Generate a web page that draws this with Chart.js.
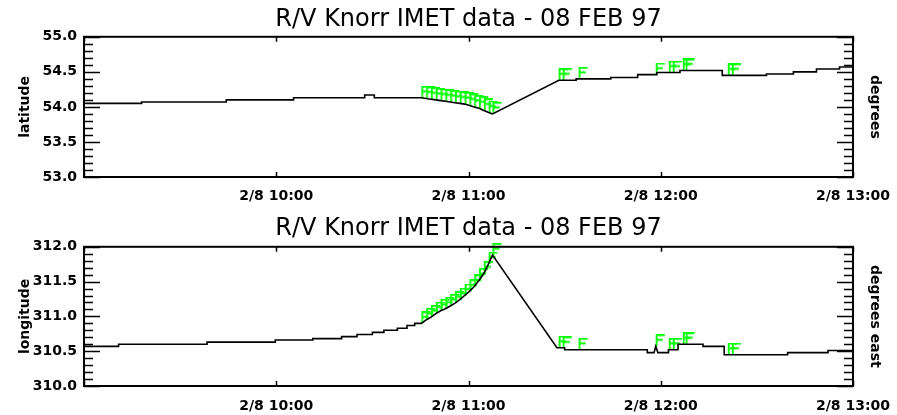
<!DOCTYPE html>
<html>
<head>
<meta charset="utf-8">
<script src="https://cdn.jsdelivr.net/npm/chart.js@4.4.1/dist/chart.umd.min.js"></script>
<style>
  html, body { margin: 0; padding: 0; background: #fff; }
  canvas { display: block; }
</style>
</head>
<body>
<canvas id="lat-chart" width="897" height="208"></canvas>
<canvas id="lon-chart" width="897" height="207"></canvas>
<script>
const title = 'R/V Knorr IMET data - 08 FEB 97';

// hours of 8 Feb 1997 on the x axis
const xTickLabels = ['', '2/8 10:00', '2/8 11:00', '2/8 12:00', '2/8 13:00'];

const latTimes = [9.0, 9.30, 9.30, 9.74, 9.74, 10.09, 10.09, 10.46, 10.46, 10.51, 10.51,
  10.755, 10.78, 10.805, 10.83, 10.855, 10.88, 10.905, 10.93, 10.955, 10.98, 11.005, 11.03, 11.055, 11.08, 11.105, 11.125,
  11.47, 11.56, 11.56, 11.74, 11.74, 11.88, 11.88, 11.98, 11.98, 12.10, 12.10, 12.32, 12.32,
  12.55, 12.55, 12.69, 12.69, 12.81, 12.81, 12.93, 12.93, 13.0];
const latitude = [54.05, 54.05, 54.07, 54.07, 54.10, 54.10, 54.13, 54.13, 54.17, 54.17, 54.13,
  54.13, 54.12, 54.11, 54.10, 54.09, 54.08, 54.07, 54.06, 54.05, 54.04, 54.02, 54.00, 53.98, 53.95, 53.92, 53.90,
  54.38, 54.38, 54.40, 54.40, 54.42, 54.42, 54.46, 54.46, 54.49, 54.49, 54.52, 54.52, 54.45,
  54.45, 54.47, 54.47, 54.50, 54.50, 54.54, 54.54, 54.57, 54.57];

const lonTimes = [9.0, 9.18, 9.18, 9.64, 9.64, 9.995, 9.995, 10.19, 10.19, 10.34, 10.34, 10.42, 10.42,
  10.50, 10.50, 10.56, 10.56, 10.63, 10.63, 10.68, 10.68, 10.72, 10.72,
  10.755, 10.78, 10.805, 10.83, 10.855, 10.88, 10.905, 10.93, 10.955, 10.98, 11.005, 11.03, 11.055, 11.08, 11.105, 11.125,
  11.46, 11.50, 11.50, 11.93, 11.93, 11.965, 11.974, 11.985, 12.04, 12.04, 12.09, 12.09,
  12.22, 12.22, 12.33, 12.33, 12.66, 12.66, 12.87, 12.87, 13.0];
const longitude = [310.57, 310.57, 310.60, 310.60, 310.63, 310.63, 310.66, 310.66, 310.68, 310.68, 310.71, 310.71, 310.74,
  310.74, 310.77, 310.77, 310.80, 310.80, 310.83, 310.83, 310.87, 310.87, 310.90,
  310.90, 310.95, 310.99, 311.04, 311.08, 311.11, 311.15, 311.19, 311.24, 311.30, 311.36, 311.43, 311.52, 311.62, 311.76, 311.88,
  310.55, 310.55, 310.52, 310.52, 310.48, 310.48, 310.57, 310.48, 310.48, 310.52, 310.52, 310.60,
  310.60, 310.57, 310.57, 310.45, 310.45, 310.48, 310.48, 310.51, 310.51];

// points flagged "F"
const flagTimes = [10.755, 10.78, 10.805, 10.83, 10.855, 10.88, 10.905, 10.93, 10.955, 10.98, 11.005, 11.03, 11.055, 11.08, 11.105, 11.125,
  11.469, 11.49, 11.573, 11.974, 12.042, 12.063, 12.115, 12.13, 12.349, 12.37];
const flagLatitude = [54.13, 54.12, 54.11, 54.10, 54.09, 54.08, 54.07, 54.06, 54.05, 54.04, 54.02, 54.00, 53.98, 53.95, 53.92, 53.90,
  54.38, 54.38, 54.40, 54.46, 54.49, 54.49, 54.52, 54.52, 54.45, 54.45];
const flagLongitude = [310.90, 310.95, 310.99, 311.04, 311.08, 311.11, 311.15, 311.19, 311.24, 311.30, 311.36, 311.43, 311.52, 311.62, 311.76, 311.88,
  310.55, 310.54, 310.52, 310.57, 310.52, 310.52, 310.60, 310.60, 310.45, 310.45];

function zip(xs, ys) {
  return xs.map((x, i) => ({x: x, y: ys[i]}));
}

// green "F" glyph, bottom-left corner sits on the point
function makeFlagGlyph() {
  const w = 9, h = 12;
  const c = document.createElement('canvas');
  c.width = 2 * w + 2;
  c.height = 2 * h;
  const g = c.getContext('2d');
  g.strokeStyle = '#00ff00';
  g.lineWidth = 1.8;
  g.beginPath();
  g.moveTo(w + 1.8, h); g.lineTo(w + 1.8, 0.9);
  g.lineTo(2 * w + 1, 0.9);
  g.moveTo(w + 1.8, 5.5); g.lineTo(2 * w - 1, 5.5);
  g.stroke();
  return c;
}
const flagGlyph = makeFlagGlyph();

// IDL style box with inward ticks
const idlFrame = {
  id: 'idlFrame',
  afterDatasetsDraw(chart) {
    const {ctx, chartArea: a, scales} = chart;
    const y = scales.y, x = scales.x;
    ctx.save();
    ctx.strokeStyle = '#000';
    ctx.lineWidth = 1.5;
    ctx.beginPath();
    const n = Math.round((y.max - y.min) / 0.1);
    for (let i = 0; i <= n; i++) {
      const py = Math.round(y.getPixelForValue(y.min + i * 0.1)) + 0.5;
      const len = i % 5 === 0 ? 16 : 9;
      ctx.moveTo(a.left, py); ctx.lineTo(a.left + len, py);
      ctx.moveTo(a.right, py); ctx.lineTo(a.right - len, py);
    }
    x.ticks.forEach(t => {
      const px = Math.round(x.getPixelForValue(t.value)) + 0.5;
      ctx.moveTo(px, a.top); ctx.lineTo(px, a.top + 5);
      ctx.moveTo(px, a.bottom); ctx.lineTo(px, a.bottom - 5);
    });
    ctx.stroke();
    ctx.lineWidth = 2;
    ctx.strokeRect(a.left, a.top, a.right - a.left, a.bottom - a.top);
    ctx.restore();
  }
};

const axisFont = {family: 'DejaVu Sans', size: 14, weight: 'bold'};
const noGrid = {display: false, drawTicks: false};

function makePanel(id, p) {
  return new Chart(document.getElementById(id), {
    type: 'line',
    data: {
      datasets: [
        {data: zip(p.times, p.values), borderColor: '#000', borderWidth: 1.6, pointRadius: 0, tension: 0},
        {data: zip(flagTimes, p.flags), showLine: false, pointStyle: flagGlyph, pointRadius: 5, clip: false}
      ]
    },
    options: {
      responsive: false,
      animation: false,
      events: [],
      layout: {padding: 0},
      plugins: {
        legend: {display: false},
        tooltip: {enabled: false},
        title: {
          display: true, text: title, color: '#000', fullSize: false,
          font: {family: 'DejaVu Sans', size: 24, weight: 'normal', lineHeight: 1.2},
          padding: {top: p.titleTop, bottom: p.titleBottom}
        }
      },
      scales: {
        x: {
          type: 'linear', min: 9, max: 13,
          grid: noGrid, border: {display: false},
          ticks: {
            stepSize: 1, autoSkip: false, maxRotation: 0, padding: p.tickPad,
            color: '#000', font: axisFont,
            callback: (v, i) => xTickLabels[i]
          },
          afterFit: s => { s.height = p.xHeight; s.paddingLeft = 0; s.paddingRight = 0; }
        },
        y: {
          position: 'left', min: p.min, max: p.max,
          grid: noGrid, border: {display: false},
          ticks: {stepSize: 0.5, padding: 7, color: '#000', font: axisFont, callback: v => v.toFixed(1)},
          title: {display: true, text: p.leftTitle, color: '#000', font: axisFont, padding: {top: 17, bottom: 0}},
          afterFit: s => { s.width = 84; }
        },
        y2: {
          position: 'right', min: p.min, max: p.max,
          grid: noGrid, border: {display: false},
          ticks: {display: false},
          title: {display: true, text: p.rightTitle, color: '#000', font: axisFont, padding: {top: 14, bottom: 0}},
          afterFit: s => { s.width = 44; }
        }
      }
    },
    plugins: [idlFrame]
  });
}

makePanel('lat-chart', {
  times: latTimes, values: latitude, flags: flagLatitude,
  min: 53, max: 55, leftTitle: 'latitude', rightTitle: 'degrees',
  titleTop: 5, titleBottom: 3, xHeight: 31, tickPad: 11
});

makePanel('lon-chart', {
  times: lonTimes, values: longitude, flags: flagLongitude,
  min: 310, max: 312, leftTitle: 'longitude', rightTitle: 'degrees east',
  titleTop: 6, titleBottom: 4, xHeight: 29, tickPad: 12
});
</script>
</body>
</html>
